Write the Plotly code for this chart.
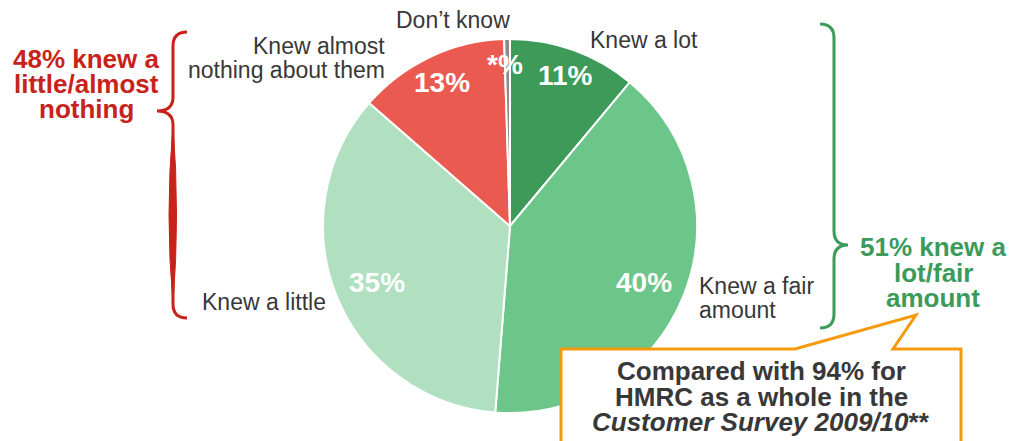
import plotly.graph_objects as go

# Survey responses: how much respondents knew about them
categories = ["Knew a lot", "Knew a fair amount", "Knew a little",
              "Knew almost nothing about them", "Don't know"]
values = [11, 40, 35, 13, 0.5]
pct_labels = ["11%", "40%", "35%", "13%", "*%"]
slice_colors = ["#3d9a59", "#6cc589", "#b0e0c0", "#ea5a50", "#8c8c8c"]

W, H = 1009, 441
CX, CY, R = 510, 226, 187
FONT = "Liberation Sans, Arial, sans-serif"
TXT = "#383838"
RED = "#c8231a"
GREEN = "#3c9a5a"
ORANGE = "#f59a0c"

fig = go.Figure()
fig.add_trace(go.Pie(
    labels=categories,
    values=values,
    sort=False,
    direction="clockwise",
    rotation=0,
    textinfo="none",
    hoverinfo="label+percent",
    marker=dict(colors=slice_colors, line=dict(color="white", width=2)),
    domain=dict(x=[(CX - R) / W, (CX + R) / W],
                y=[1 - (CY + R) / H, 1 - (CY - R) / H]),
    showlegend=False,
))

ann = []

def label(text, x, y, size=23, color=TXT, bold=False, xanchor="center"):
    ann.append(dict(x=x, y=y, xref="x", yref="y", text=text, showarrow=False,
                    xanchor=xanchor, yanchor="middle",
                    font=dict(family=FONT, size=size, color=color,
                              weight="bold" if bold else "normal")))

# percentage labels inside the slices
pct_pos = {"11%": (565, 75), "40%": (644, 282), "35%": (377, 282),
           "13%": (442, 82), "*%": (505, 64)}
for t in pct_labels:
    px, py = pct_pos[t]
    label(t, px, py, size=28, color="white", bold=True)

# category labels around the pie
label("Don’t know", 453, 20)
label("Knew a lot", 588, 40, xanchor="left")
label("Knew almost", 387, 46, xanchor="right")
label("nothing about them", 387, 70, xanchor="right")
label("Knew a little", 200, 302, xanchor="left")
label("Knew a fair", 697, 286, xanchor="left")
label("amount", 697, 310, xanchor="left")

# group summaries
for i, t in enumerate(["48% knew a", "little/almost", "nothing"]):
    label(t, 86, 59 + 25 * i, size=26, color=RED, bold=True)
for i, t in enumerate(["51% knew a", "lot/fair", "amount"]):
    label(t, 933, 247 + 25.5 * i, size=26, color=GREEN, bold=True)

# callout text
callout = ["Compared with 94% for", "HMRC as a whole in the",
           "<i>Customer Survey 2009/10</i>**"]
for i, t in enumerate(callout):
    label(t, 761, 371 + 25.5 * i, size=26, color=TXT, bold=True)

shapes = [
    # green brace (right)
    dict(type="path", xref="x", yref="y", layer="above",
         path="M 820,24 Q 834,24 834,38 L 834,231 Q 834,245 848,245 "
              "Q 834,245 834,259 L 834,314 Q 834,328 820,328",
         line=dict(color=GREEN, width=3)),
    # red brace (left)
    dict(type="path", xref="x", yref="y", layer="above",
         path="M 187,32 Q 173,32 173,46 L 173,97 Q 173,111 157,111 "
              "Q 173,111 173,125 L 173,304 Q 173,318 187,318",
         line=dict(color=RED, width=3)),
    dict(type="path", xref="x", yref="y", layer="above",
         path="M 173,125 Q 165,215 173,304 Q 180,215 173,125 Z",
         fillcolor=RED, line=dict(color=RED, width=1)),
    # callout box with pointer
    dict(type="path", xref="x", yref="y", layer="above",
         path="M 561,470 L 561,349 L 795,349 L 916,315 L 893,349 "
              "L 961,349 L 961,470 Z",
         fillcolor="white", line=dict(color=ORANGE, width=3)),
]

fig.update_layout(
    width=W, height=H,
    margin=dict(l=0, r=0, t=0, b=0),
    paper_bgcolor="white", plot_bgcolor="white",
    xaxis=dict(range=[0, W], visible=False, fixedrange=True),
    yaxis=dict(range=[H, 0], visible=False, fixedrange=True),
    annotations=ann,
    shapes=shapes,
)

fig.write_html("out.html")
